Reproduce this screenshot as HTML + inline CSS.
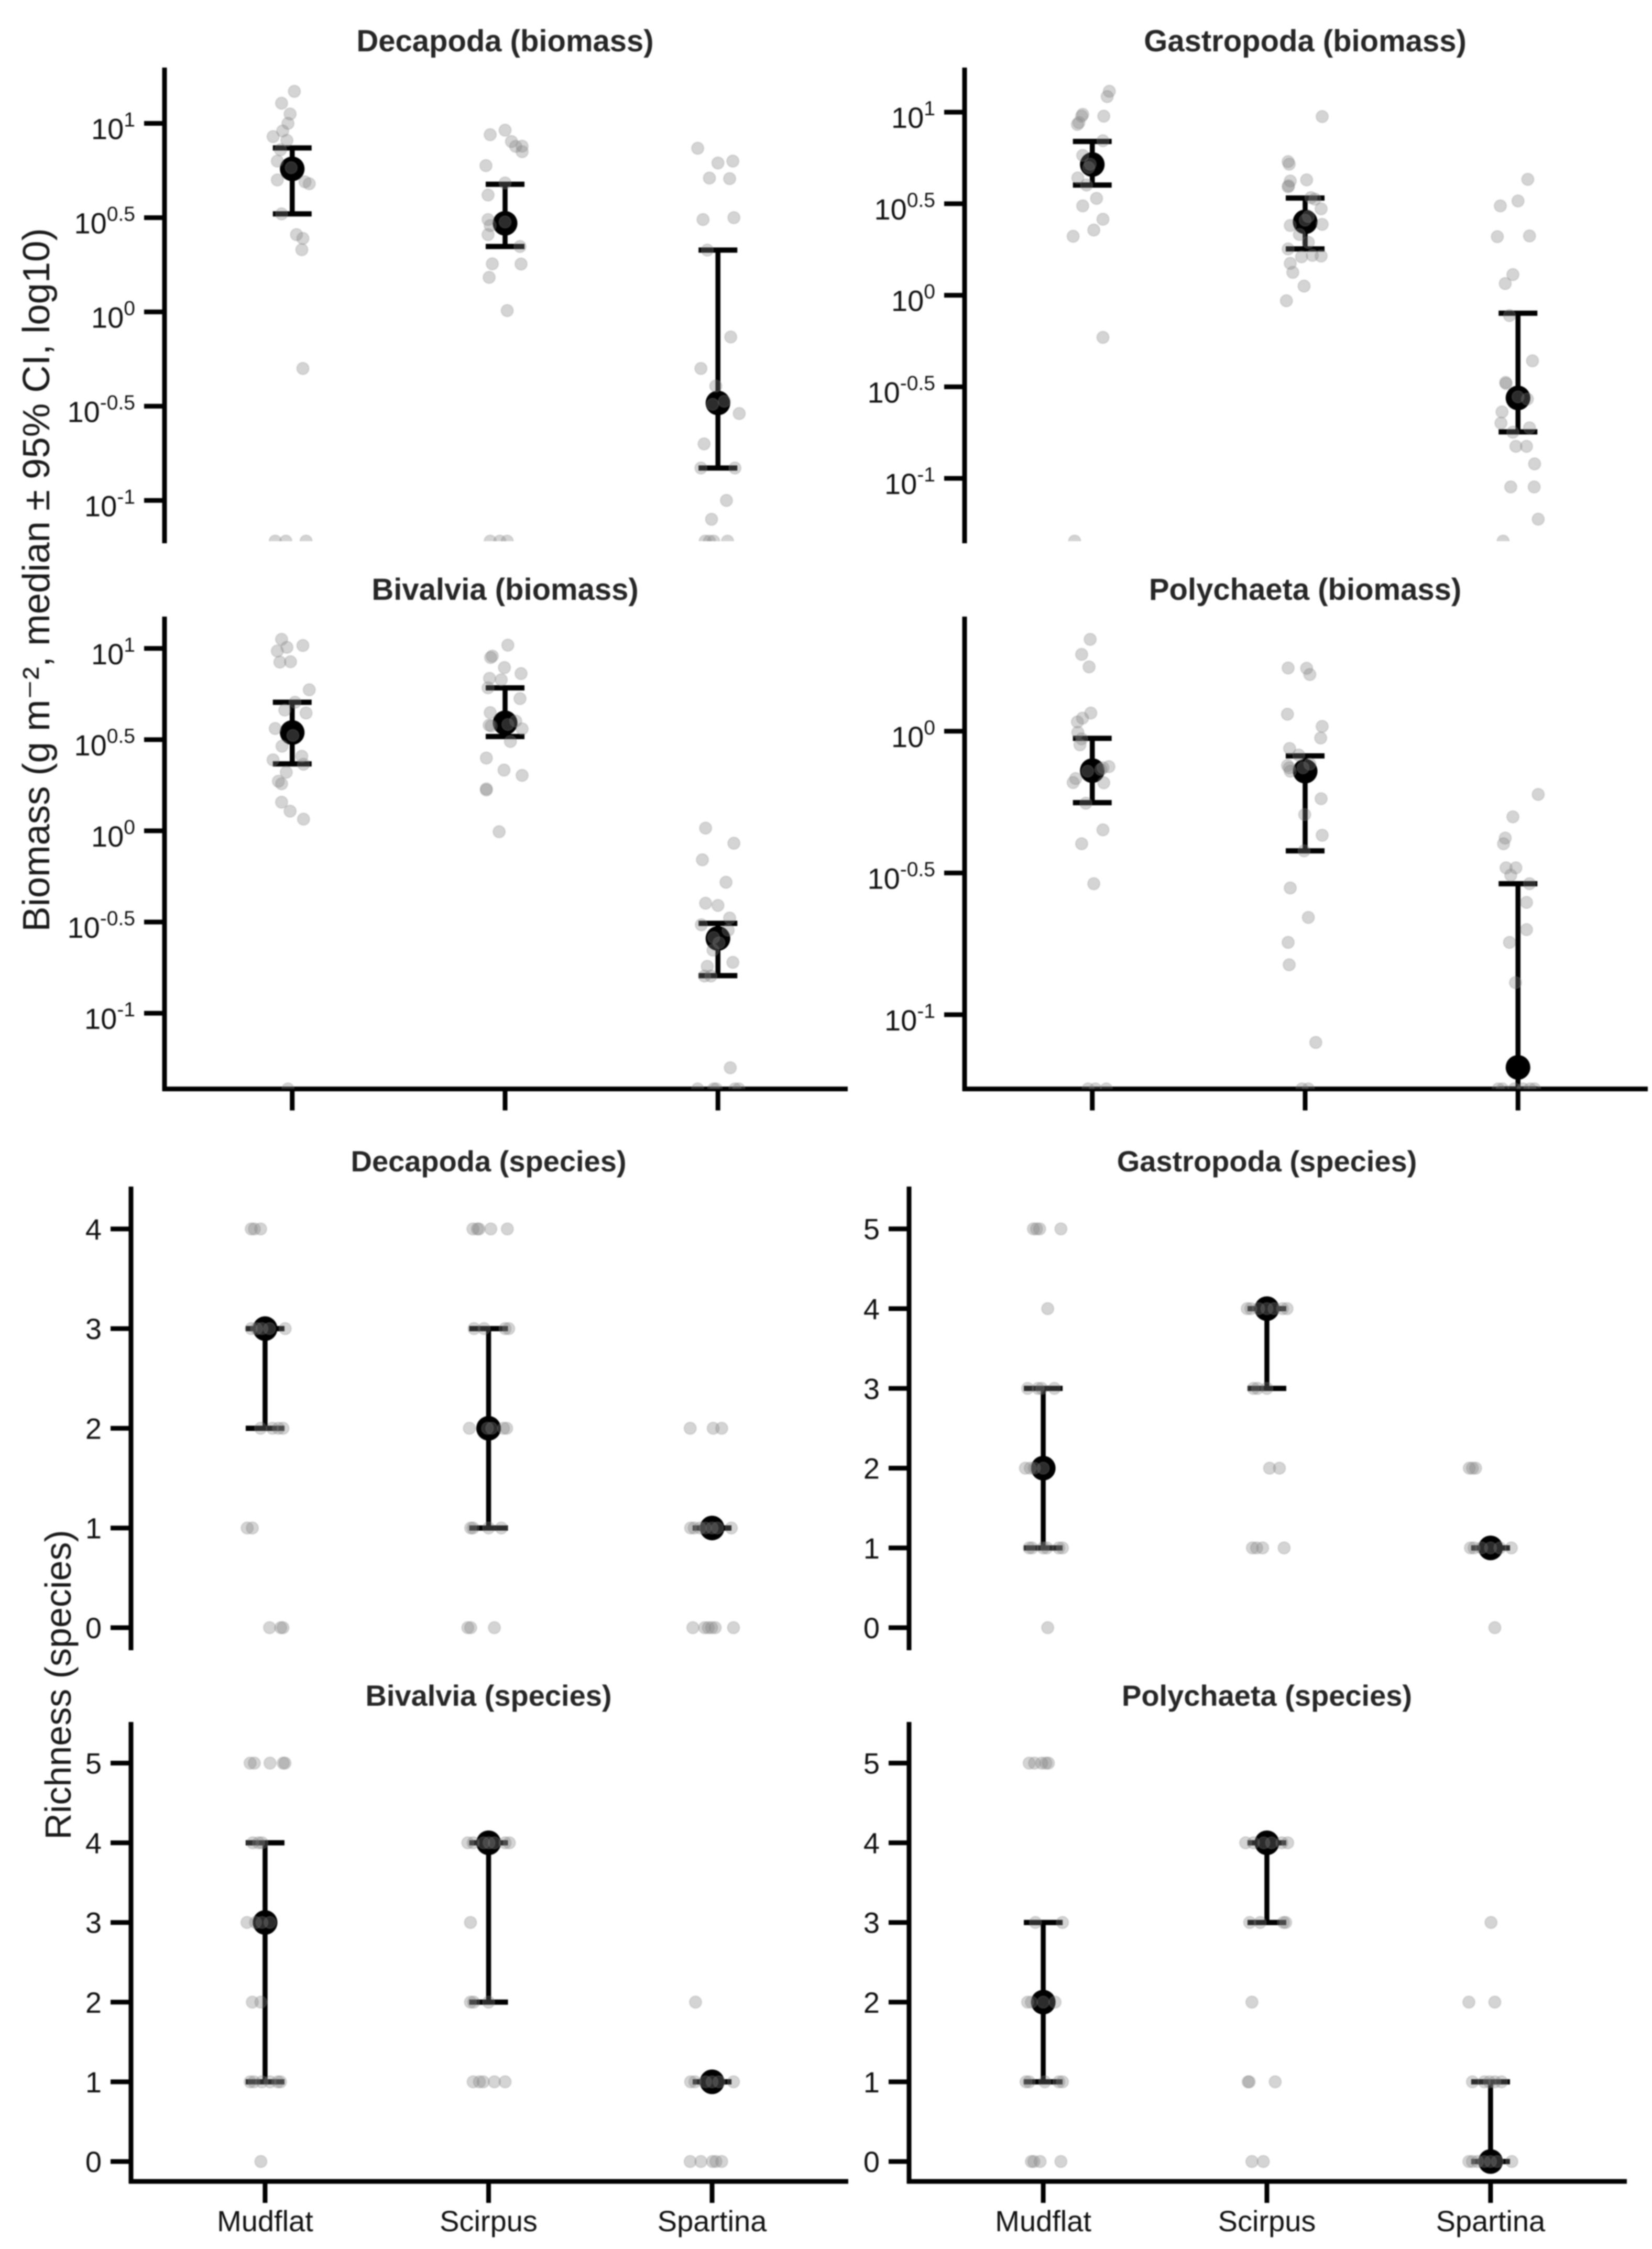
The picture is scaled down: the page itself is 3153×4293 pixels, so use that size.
<!DOCTYPE html>
<html>
<head>
<meta charset="utf-8">
<title>Biomass and richness by habitat</title>
<style>
html,body{margin:0;padding:0;background:#fff;}
#chart{display:block;filter:blur(1px);font-family:"Liberation Sans","DejaVu Sans",sans-serif;}
</style>
</head>
<body>
<svg id="chart" xmlns="http://www.w3.org/2000/svg" width="3153" height="4293" viewBox="0 0 3153 4293">
<rect x="0" y="0" width="3153" height="4293" fill="#fff"/>
<text transform="translate(94,1107) rotate(-90)" text-anchor="middle" font-size="72.5" fill="#1a1a1a">Biomass (g m⁻², median ± 95% CI, log10)</text>
<text transform="translate(135,3216) rotate(-90)" text-anchor="middle" font-size="70" fill="#1a1a1a">Richness (species)</text>
</svg>
<script>
const categories = ['Mudflat', 'Scirpus', 'Spartina'];
const biomassTicks = [1, 0.5, 0, -0.5, -1];
const polychaetaBiomassTicks = [0, -0.5, -1];
const decapodaSpeciesTicks = [0, 1, 2, 3, 4];
const speciesTicks = [0, 1, 2, 3, 4, 5];

// Each point: [value, jitter]. Biomass values are log10(g m-2).
const decapodaBiomassPoints = [
 [[1.17,.01],[1.107,-.05],[1.05,-.01],[1.0,-.02],[.96,-.045],[.93,-.09],[.91,-.025],[.86,-.055],[.8,-.07],[.765,-.005],[.7,-.07],[.69,.06],[.68,.08],[.52,-.05],[.41,.02],[.39,.05],[.33,.045],[-.3,.05],[-1.216,-.08],[-1.216,-.03],[-1.216,.065]],
 [[.964,0],[.94,-.07],[.904,.03],[.878,.05],[.879,.08],[.85,.08],[.776,-.09],[.684,0],[.62,-.08],[.49,-.08],[.458,-.07],[.477,0],[.41,-.08],[.347,.07],[.255,-.06],[.254,.075],[.183,-.075],[.007,.01],[-1.216,-.07],[-1.216,-.025],[-1.216,.01]],
 [[.868,-.095],[.79,0],[.8,.07],[.71,-.04],[.707,.055],[.49,-.07],[.5,.075],[.328,-.05],[-.133,.06],[-.3,-.08],[-.393,-.01],[-.474,.03],[-.49,-.025],[-.539,.1],[-.7,-.065],[-.828,-.08],[-.828,.08],[-1.0,.04],[-1.1,-.03],[-1.216,-.06],[-1.216,-.04],[-1.216,-.02],[-1.216,.045]]
];
const decapodaBiomassMedian = [.759, .47, -.483];
const decapodaBiomassLow = [.52, .347, -.828];
const decapodaBiomassHigh = [.87, .677, .328];

const gastropodaBiomassPoints = [
 [[1.114,.08],[1.085,.07],[.988,-.045],[.978,-.05],[.943,-.063],[.933,-.07],[.978,.054],[.844,.05],[.764,-.045],[.716,-.01],[.697,-.017],[.641,-.068],[.602,-.027],[.529,.02],[.488,-.045],[.415,.05],[.356,.007],[.322,-.09],[-.23,.05],[-1.343,-.083]],
 [[.976,.08],[.73,-.08],[.716,-.075],[.63,.007],[.624,-.07],[.598,-.078],[.592,-.08],[.533,.027],[.525,.046],[.472,.075],[.41,0],[.43,.015],[.381,-.07],[.387,.08],[.332,-.027],[.289,.015],[.253,-.08],[.21,-.017],[.218,.034],[.214,.075],[.174,-.07],[.125,-.058],[.05,-.005],[-.03,-.088]],
 [[.633,.046],[.515,0],[.488,-.083],[.32,-.097],[.324,.054],[.113,-.024],[.064,-.06],[-.111,-.04],[-.358,.068],[-.482,-.056],[-.476,-.058],[-.555,0],[-.567,.044],[-.637,-.075],[-.698,-.08],[-.724,.054],[-.748,-.024],[-.825,-.01],[-.825,.04],[-.921,.078],[-1.047,-.034],[-1.047,.076],[-1.223,.095],[-1.343,-.07]]
];
const gastropodaBiomassMedian = [.714, .401, -.561];
const gastropodaBiomassLow = [.602, .253, -.746];
const gastropodaBiomassHigh = [.84, .531, -.098];

const bivalviaBiomassPoints = [
 [[1.05,-.05],[1.006,-.025],[1.016,.05],[.986,-.07],[.925,-.058],[.927,-.008],[.773,.08],[.705,.013],[.662,-.035],[.646,.065],[.561,-.08],[.523,.003],[.464,-.048],[.409,.045],[.389,-.09],[.365,.053],[.321,-.028],[.272,-.065],[.258,-.05],[.157,-.05],[.108,-.01],[.064,.053],[-1.415,-.02]],
 [[1.018,.013],[.958,-.06],[.95,-.068],[.895,-.003],[.862,.075],[.836,-.073],[.828,-.018],[.784,-.08],[.725,.07],[.648,-.07],[.579,-.075],[.575,-.065],[.583,.013],[.602,.05],[.559,.08],[.49,.025],[.399,-.088],[.333,-.005],[.304,.08],[.23,-.088],[.224,-.088],[-.005,-.028]],
 [[.015,-.058],[-.068,.075],[-.159,-.073],[-.282,.038],[-.397,-.058],[-.409,0],[-.478,.055],[-.515,-.078],[-.545,.048],[-.585,-.02],[-.614,.005],[-.654,-.023],[-.721,.07],[-.743,-.05],[-.796,-.063],[-.796,-.033],[-1.299,.058],[-1.415,-.095],[-1.415,-.02],[-1.415,-.008],[-1.415,.08],[-1.415,.098]]
];
const bivalviaBiomassMedian = [.539, .592, -.59];
const bivalviaBiomassLow = [.367, .517, -.794];
const bivalviaBiomassHigh = [.705, .784, -.507];

const polychaetaBiomassPoints = [
 [[.324,-.01],[.271,-.05],[.227,-.015],[.064,-.007],[.046,-.046],[.033,-.07],[-.004,-.068],[-.027,-.05],[-.048,-.058],[-.141,-.022],[-.129,.05],[-.125,.078],[-.135,.04],[-.167,-.078],[-.181,-.09],[-.182,.054],[-.254,-.03],[-.348,.05],[-.397,-.05],[-.538,.007],[-1.262,-.02],[-1.262,.015],[-1.262,.066]],
 [[.223,-.08],[.222,.007],[.2,.022],[.06,-.083],[.017,.08],[-.024,.073],[-.061,-.073],[-.084,-.03],[-.121,-.083],[-.141,-.07],[-.129,-.075],[-.116,.022],[-.129,-.01],[-.238,.075],[-.294,-.002],[-.367,.08],[-.422,-.005],[-.553,-.07],[-.657,.015],[-.745,-.08],[-.824,-.075],[-1.098,.05],[-1.262,-.015],[-1.262,.015]],
 [[-.223,.095],[-.302,-.024],[-.377,-.06],[-.397,-.068],[-.482,-.056],[-.482,-.01],[-.508,-.034],[-.538,.054],[-.604,.04],[-.7,.04],[-.745,-.04],[-.887,-.012],[-1.262,-.093],[-1.262,-.073],[-1.262,-.017],[-1.262,.024],[-1.262,.056],[-1.262,.078]]
];
const polychaetaBiomassMedian = [-.139, -.141, -1.186];
const polychaetaBiomassLow = [-.252, -.422, -1.262];
const polychaetaBiomassHigh = [-.025, -.087, -.538];

const decapodaSpeciesPoints = [
 [[4,-.062],[4,-.048],[4,-.02],[3,-.062],[3,-.038],[3,-.014],[3,.02],[3,.09],[2,-.02],[2,.033],[2,.06],[2,.08],[1,-.08],[1,-.057],[0,.02],[0,.07],[0,.08]],
 [[4,-.07],[4,-.05],[4,-.043],[4,.01],[4,.084],[3,-.065],[3,-.02],[3,.074],[3,.09],[2,-.086],[2,-.005],[2,.014],[2,.067],[2,.081],[1,-.08],[1,-.07],[1,0],[1,.057],[0,-.093],[0,-.08],[0,.026]],
 [[2,-.098],[2,.005],[2,.043],[1,-.096],[1,-.08],[1,-.053],[1,-.03],[1,0],[1,.024],[1,.086],[0,-.086],[0,-.033],[0,-.017],[0,-.002],[0,.014],[0,.096]]
];
const decapodaSpeciesMedian = [3, 2, 1];
const decapodaSpeciesLow = [2, 1, 1];
const decapodaSpeciesHigh = [3, 3, 1];

const gastropodaSpeciesPoints = [
 [[5,-.044],[5,-.03],[5,-.016],[5,.079],[4,.02],[3,-.07],[3,-.023],[3,-.007],[3,.05],[2,-.08],[2,-.058],[2,-.04],[2,0],[1,-.063],[1,-.05],[1,0],[1,.016],[1,.07],[1,.086],[0,.02]],
 [[4,-.088],[4,-.072],[4,-.037],[4,0],[4,.032],[4,.07],[4,.09],[3,-.06],[3,-.042],[3,0],[2,.012],[2,.056],[1,-.065],[1,-.046],[1,-.019],[1,.077]],
 [[2,-.095],[2,-.081],[2,-.067],[1,-.09],[1,-.074],[1,-.04],[1,0],[1,.042],[1,.093],[0,.019]]
];
const gastropodaSpeciesMedian = [2, 4, 1];
const gastropodaSpeciesLow = [1, 3, 1];
const gastropodaSpeciesHigh = [3, 4, 1];

const bivalviaSpeciesPoints = [
 [[5,-.067],[5,-.048],[5,.022],[5,.081],[5,.089],[4,-.055],[4,-.029],[4,-.014],[3,-.081],[3,-.043],[3,-.014],[3,.022],[2,-.057],[2,-.019],[1,-.067],[1,-.05],[1,-.014],[1,.022],[1,.057],[1,.069],[0,-.019]],
 [[4,-.093],[4,-.069],[4,-.022],[4,.002],[4,.026],[4,.074],[4,.093],[3,-.081],[2,-.081],[2,-.067],[2,0],[1,-.069],[1,-.041],[1,-.024],[1,.026],[1,.074]],
 [[2,-.074],[1,-.096],[1,-.077],[1,-.029],[1,0],[1,.031],[1,.096],[0,-.098],[0,-.05],[0,.002],[0,.017],[0,.043]]
];
const bivalviaSpeciesMedian = [3, 4, 1];
const bivalviaSpeciesLow = [1, 2, 1];
const bivalviaSpeciesHigh = [4, 4, 1];

const polychaetaSpeciesPoints = [
 [[5,-.063],[5,-.039],[5,-.007],[5,.012],[5,.023],[3,-.035],[3,.086],[2,-.07],[2,-.053],[2,0],[2,.053],[1,-.077],[1,-.063],[1,.007],[1,.07],[1,.086],[0,-.053],[0,-.042],[0,-.014],[0,.079]],
 [[4,-.095],[4,-.06],[4,-.014],[4,.021],[4,.067],[4,.093],[3,-.077],[3,-.03],[3,.074],[3,.084],[2,-.067],[1,-.084],[1,-.079],[1,.037],[0,-.067],[0,-.016]],
 [[3,.002],[2,-.097],[2,.019],[1,-.081],[1,-.028],[1,-.005],[1,.019],[1,.049],[0,-.097],[0,-.081],[0,-.058],[0,-.028],[0,0],[0,.03],[0,.095]]
];
const polychaetaSpeciesMedian = [2, 4, 0];
const polychaetaSpeciesLow = [1, 3, 0];
const polychaetaSpeciesHigh = [3, 4, 1];

const NS = 'http://www.w3.org/2000/svg';
const svg = document.getElementById('chart');
const TICK_LEN = 39, TICK_PAD = 17, SPINE = 9, BAR = 9.5, CAP = 10, MEDIAN_R = 23.5;

function make(parent, tag, attrs, text) {
  const el = document.createElementNS(NS, tag);
  for (const k in attrs) el.setAttribute(k, attrs[k]);
  if (text !== undefined) el.textContent = text;
  parent.appendChild(el);
  return el;
}

const panels = [
 {id:'decapoda-biomass', title:'Decapoda (biomass)', titleSize:58, log:true, l:314, r:1614, t:133, b:1033, lo:-1.216, hi:1.285, ticks:biomassTicks, pts:decapodaBiomassPoints, med:decapodaBiomassMedian, low:decapodaBiomassLow, high:decapodaBiomassHigh, titleY:98, xAxis:false, labels:false},
 {id:'gastropoda-biomass', title:'Gastropoda (biomass)', titleSize:58, log:true, l:1841, r:3141, t:133, b:1033, lo:-1.343, hi:1.232, ticks:biomassTicks, pts:gastropodaBiomassPoints, med:gastropodaBiomassMedian, low:gastropodaBiomassLow, high:gastropodaBiomassHigh, titleY:98, xAxis:false, labels:false},
 {id:'bivalvia-biomass', title:'Bivalvia (biomass)', titleSize:58, log:true, l:314, r:1614, t:1181, b:2078.6, lo:-1.415, hi:1.163, ticks:biomassTicks, pts:bivalviaBiomassPoints, med:bivalviaBiomassMedian, low:bivalviaBiomassLow, high:bivalviaBiomassHigh, titleY:1145, xAxis:true, labels:false},
 {id:'polychaeta-biomass', title:'Polychaeta (biomass)', titleSize:58, log:true, l:1841, r:3141, t:1181, b:2078.6, lo:-1.262, hi:.397, ticks:polychaetaBiomassTicks, pts:polychaetaBiomassPoints, med:polychaetaBiomassMedian, low:polychaetaBiomassLow, high:polychaetaBiomassHigh, titleY:1145, xAxis:true, labels:false},
 {id:'decapoda-species', title:'Decapoda (species)', titleSize:56, log:false, l:250, r:1615, t:2269, b:3146, lo:-.205, hi:4.404, ticks:decapodaSpeciesTicks, pts:decapodaSpeciesPoints, med:decapodaSpeciesMedian, low:decapodaSpeciesLow, high:decapodaSpeciesHigh, titleY:2236, xAxis:false, labels:false},
 {id:'gastropoda-species', title:'Gastropoda (species)', titleSize:56, log:false, l:1735, r:3101, t:2269, b:3146, lo:-.256, hi:5.504, ticks:speciesTicks, pts:gastropodaSpeciesPoints, med:gastropodaSpeciesMedian, low:gastropodaSpeciesLow, high:gastropodaSpeciesHigh, titleY:2236, xAxis:false, labels:false},
 {id:'bivalvia-species', title:'Bivalvia (species)', titleSize:56, log:false, l:250, r:1615, t:3291, b:4164, lo:-.25, hi:5.49, ticks:speciesTicks, pts:bivalviaSpeciesPoints, med:bivalviaSpeciesMedian, low:bivalviaSpeciesLow, high:bivalviaSpeciesHigh, titleY:3256, xAxis:true, labels:true},
 {id:'polychaeta-species', title:'Polychaeta (species)', titleSize:56, log:false, l:1735, r:3101, t:3291, b:4164, lo:-.25, hi:5.49, ticks:speciesTicks, pts:polychaetaSpeciesPoints, med:polychaetaSpeciesMedian, low:polychaetaSpeciesLow, high:polychaetaSpeciesHigh, titleY:3256, xAxis:true, labels:true}
];

panels.forEach(function (p, pi) {
  const xScale = function (c) { return p.l + (c + 0.6) * (p.r - p.l) / 3.2; };
  const yScale = function (v) { return p.b - (v - p.lo) * (p.b - p.t) / (p.hi - p.lo); };

  const g = make(svg, 'g', {});
  
  

  const clip = make(g, 'clipPath', {id: 'clip' + pi});
  make(clip, 'rect', {x: p.l, y: p.t, width: p.r - p.l, height: p.b - p.t});

  const title = make(g, 'text', {x: (p.l + p.r) / 2, y: p.titleY, 'text-anchor': 'middle', 'font-size': p.titleSize, 'font-weight': 'bold', fill: '#262626'}, p.title);
  
  

  // Spines
  const ySpine = make(g, 'line', {x1: p.l, x2: p.l, y1: p.t - 4, y2: p.b + 4, stroke: '#000', 'stroke-width': SPINE});
  
  
  if (p.xAxis) {
    const xSpine = make(g, 'line', {x1: p.l - 4, x2: p.r + 4, y1: p.b, y2: p.b, stroke: '#000', 'stroke-width': SPINE});
    
    
  }

  // Y ticks
  p.ticks.forEach(function (t) {
    const ty = yScale(t);
    const tick = make(g, 'line', {x1: p.l - TICK_LEN, x2: p.l, y1: ty, y2: ty, stroke: '#000', 'stroke-width': SPINE});
    
    
    const lx = p.l - TICK_LEN - TICK_PAD;
    if (p.log) {
      const lab = make(g, 'text', {x: lx, y: ty + 30, 'text-anchor': 'end', 'font-size': 56, fill: '#111'});
      
      
      make(lab, 'tspan', {}, '10');
      make(lab, 'tspan', {dy: -24, 'font-size': 39}, String(t));
    } else {
      const lab = make(g, 'text', {x: lx, y: ty + 20, 'text-anchor': 'end', 'font-size': 56, fill: '#111'}, String(t));
      
      
    }
  });

  // X ticks
  if (p.xAxis) {
    categories.forEach(function (c, i) {
      const tx = xScale(i);
      const tick = make(g, 'line', {x1: tx, x2: tx, y1: p.b, y2: p.b + 41, stroke: '#000', 'stroke-width': SPINE});
      
      
      if (p.labels) {
        const lab = make(g, 'text', {x: tx, y: p.b + 95, 'text-anchor': 'middle', 'font-size': 56, fill: '#111'}, c);
        
        
      }
    });
  }

  const marks = make(g, 'g', {'clip-path': 'url(#clip' + pi + ')'});
  
  

  // Error bars and medians
  categories.forEach(function (c, i) {
    const cx = xScale(i);
    const stem = make(marks, 'line', {x1: cx, x2: cx, y1: yScale(p.low[i]), y2: yScale(p.high[i]), stroke: '#000', 'stroke-width': BAR});
    
    
    const capLow = make(marks, 'line', {x1: cx - 37, x2: cx + 37, y1: yScale(p.low[i]), y2: yScale(p.low[i]), stroke: '#000', 'stroke-width': CAP});
    
    
    const capHigh = make(marks, 'line', {x1: cx - 37, x2: cx + 37, y1: yScale(p.high[i]), y2: yScale(p.high[i]), stroke: '#000', 'stroke-width': CAP});
    
    
    const med = make(marks, 'circle', {cx: cx, cy: yScale(p.med[i]), r: MEDIAN_R, fill: '#000'});
    
    
  });

  // Jittered points
  p.pts.forEach(function (group, i) {
    group.forEach(function (pt) {
      const dot = make(marks, 'circle', {cx: xScale(i + pt[1]), cy: yScale(pt[0]), r: 11.5, fill: 'rgba(128,128,128,0.34)', stroke: 'rgba(128,128,128,0.25)', 'stroke-width': 2});
      
      
    });
  });
});
</script>
</body>
</html>
